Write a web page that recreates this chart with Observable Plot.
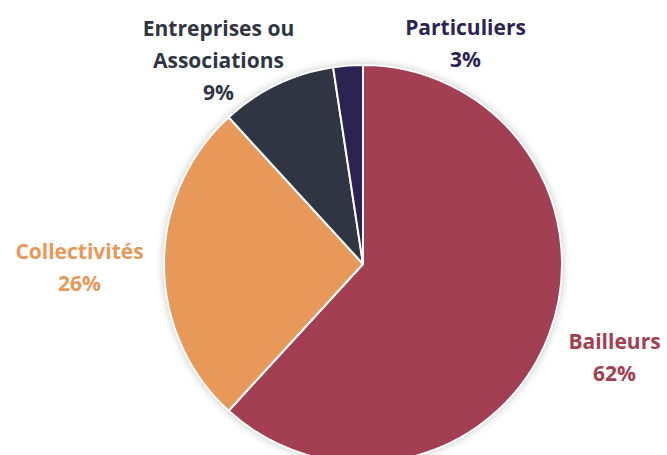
<!DOCTYPE html>
<html><head><meta charset="utf-8">
<script src="https://cdn.jsdelivr.net/npm/d3@7"></script>
<script src="https://cdn.jsdelivr.net/npm/@observablehq/plot@0.6"></script>
<style>body{margin:0;background:#fff}</style>
</head><body><div id="chart"></div>
<script>
const categories = ["Bailleurs", "Collectivités", "Entreprises ou\nAssociations", "Particuliers"];
const shares = [61.8, 26.4, 9.4, 2.4];
const shareLabels = ["62%", "26%", "9%", "3%"];
const colors = ["#A33F52", "#E8995A", "#2F3542", "#2B2452"];
const labelColors = ["#A33F52", "#E8995A", "#2F3542", "#2B2452"];

// layout (pixel space)
const W = 667, H = 455;
const center = {x: 363, y: 264}, radius = 199;
const labelPos = [[614, 354], [79, 264], [218, 57], [465, 40]];

const data = categories.map((c, i) => ({
  name: c, value: shares[i], color: colors[i], lc: labelColors[i],
  lx: labelPos[i][0], ly: labelPos[i][1], label: c + "\n" + shareLabels[i]
}));
const arcs = d3.pie().sort(null).value(d => d.value)(data);

function pieMark(index, scales) {
  const svg = d3.create("svg:g");
  const defs = svg.append("defs");
  const f = defs.append("filter").attr("id", "sh").attr("x", "-20%").attr("y", "-20%").attr("width", "140%").attr("height", "140%");
  f.append("feDropShadow").attr("dx", 0).attr("dy", 0).attr("stdDeviation", 4).attr("flood-color", "#000").attr("flood-opacity", 0.28);
  const cx = scales.x(center.x), cy = scales.y(center.y);
  const arc = d3.arc().innerRadius(0).outerRadius(radius);
  const g = svg.append("g").attr("transform", `translate(${cx},${cy})`);
  g.append("circle").attr("r", radius).attr("fill", "#fff").attr("filter", "url(#sh)");
  g.selectAll("path").data(arcs).join("path")
    .attr("d", arc).attr("fill", d => d.data.color)
    .attr("stroke", "#fff").attr("stroke-width", 2).attr("stroke-linejoin", "round");
  return svg.node();
}

const chart = Plot.plot({
  width: W, height: H, margin: 0,
  x: {domain: [0, W], range: [0, W], axis: null},
  y: {domain: [0, H], range: [0, H], axis: null},
  style: {fontFamily: "'Open Sans', sans-serif", background: "#fff"},
  marks: [
    pieMark,
    Plot.text(data, {x: "lx", y: "ly", text: "label", fill: "lc", fontSize: 21, fontWeight: 700, lineHeight: 1.52, lineAnchor: "middle", textAnchor: "middle"})
  ]
});
document.getElementById("chart").append(chart);
</script>
</body></html>
